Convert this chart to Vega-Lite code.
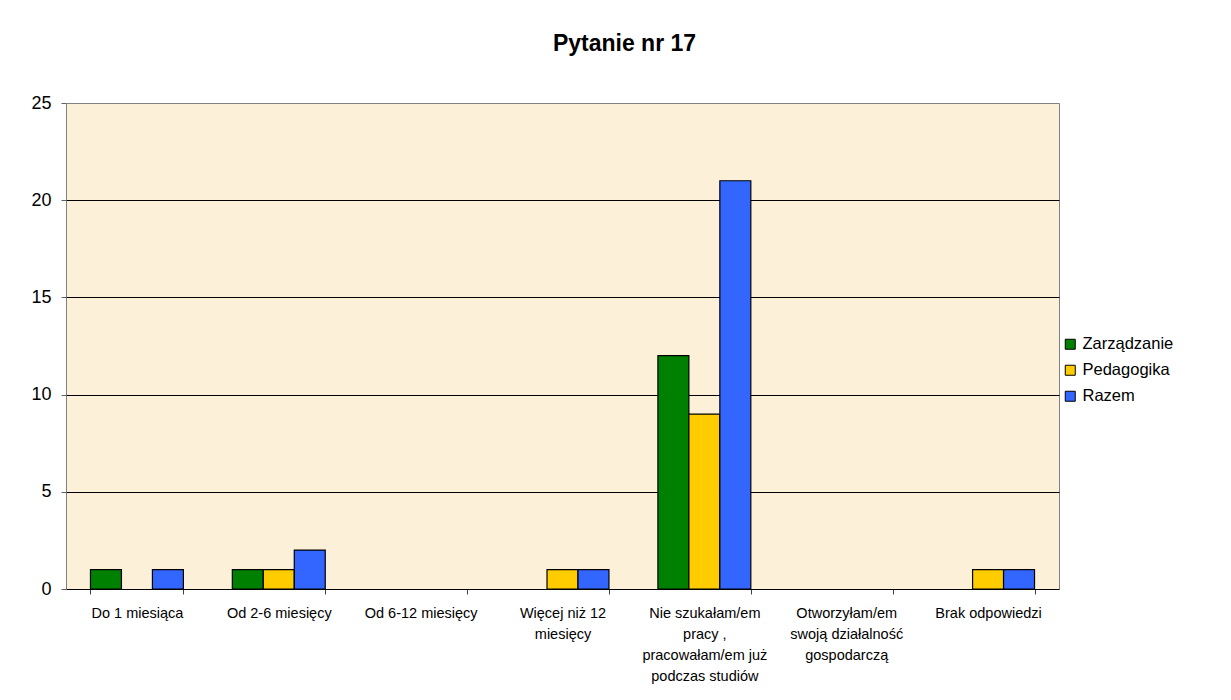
{
  "$schema": "https://vega.github.io/schema/vega-lite/v6.json",
  "width": 993,
  "height": 486,
  "padding": {"left": 30, "top": 33, "right": 5, "bottom": 5},
  "autosize": {"type": "pad"},
  "background": "white",
  "title": {"text": "Pytanie nr 17", "font": "Liberation Sans", "fontSize": 23, "fontWeight": "bold", "color": "black", "anchor": "middle", "frame": "bounds", "offset": 38, "dx": 22},
  "config": {
    "font": "Liberation Sans",
    "view": {"stroke": "#808080", "strokeWidth": 1, "fill": "#FCF0D9"}
  },
  "data": {
    "values": [
      {"kategoria": "Do 1 miesiąca", "seria": "Zarządzanie", "liczba": 1},
      {"kategoria": "Do 1 miesiąca", "seria": "Pedagogika", "liczba": 0},
      {"kategoria": "Do 1 miesiąca", "seria": "Razem", "liczba": 1},
      {"kategoria": "Od 2-6 miesięcy", "seria": "Zarządzanie", "liczba": 1},
      {"kategoria": "Od 2-6 miesięcy", "seria": "Pedagogika", "liczba": 1},
      {"kategoria": "Od 2-6 miesięcy", "seria": "Razem", "liczba": 2},
      {"kategoria": "Od 6-12 miesięcy", "seria": "Zarządzanie", "liczba": 0},
      {"kategoria": "Od 6-12 miesięcy", "seria": "Pedagogika", "liczba": 0},
      {"kategoria": "Od 6-12 miesięcy", "seria": "Razem", "liczba": 0},
      {"kategoria": "Więcej niż 12 miesięcy", "seria": "Zarządzanie", "liczba": 0},
      {"kategoria": "Więcej niż 12 miesięcy", "seria": "Pedagogika", "liczba": 1},
      {"kategoria": "Więcej niż 12 miesięcy", "seria": "Razem", "liczba": 1},
      {"kategoria": "Nie szukałam/em pracy, pracowałam/em już podczas studiów", "seria": "Zarządzanie", "liczba": 12},
      {"kategoria": "Nie szukałam/em pracy, pracowałam/em już podczas studiów", "seria": "Pedagogika", "liczba": 9},
      {"kategoria": "Nie szukałam/em pracy, pracowałam/em już podczas studiów", "seria": "Razem", "liczba": 21},
      {"kategoria": "Otworzyłam/em swoją działalność gospodarczą", "seria": "Zarządzanie", "liczba": 0},
      {"kategoria": "Otworzyłam/em swoją działalność gospodarczą", "seria": "Pedagogika", "liczba": 0},
      {"kategoria": "Otworzyłam/em swoją działalność gospodarczą", "seria": "Razem", "liczba": 0},
      {"kategoria": "Brak odpowiedzi", "seria": "Zarządzanie", "liczba": 0},
      {"kategoria": "Brak odpowiedzi", "seria": "Pedagogika", "liczba": 1},
      {"kategoria": "Brak odpowiedzi", "seria": "Razem", "liczba": 1}
    ]
  },
  "transform": [{"filter": "datum.liczba > 0"}],
  "mark": {"type": "bar", "stroke": "black", "strokeWidth": 1.2},
  "encoding": {
    "x": {
      "field": "kategoria",
      "type": "nominal",
      "sort": null,
      "scale": {
        "domain": ["Do 1 miesiąca", "Od 2-6 miesięcy", "Od 6-12 miesięcy", "Więcej niż 12 miesięcy", "Nie szukałam/em pracy, pracowałam/em już podczas studiów", "Otworzyłam/em swoją działalność gospodarczą", "Brak odpowiedzi"],
        "paddingInner": 0.345,
        "paddingOuter": 0.1725
      },
      "axis": {
        "title": null,
        "labelAngle": 0,
        "labelFontSize": 14.5,
        "labelColor": "black",
        "labelPadding": 12,
        "labelLineHeight": 21,
        "labelLimit": 0,
        "labelBaseline": "top",
        "tickBand": "extent",
        "tickSize": 5,
        "tickColor": "#404040",
        "domainColor": "black",
        "domainWidth": 1,
        "labelExpr": "datum.value == 'Więcej niż 12 miesięcy' ? ['Więcej niż 12', 'miesięcy'] : datum.value == 'Nie szukałam/em pracy, pracowałam/em już podczas studiów' ? ['Nie szukałam/em', 'pracy ,', 'pracowałam/em już', 'podczas studiów'] : datum.value == 'Otworzyłam/em swoją działalność gospodarczą' ? ['Otworzyłam/em', 'swoją działalność', 'gospodarczą'] : datum.label"
      }
    },
    "xOffset": {"field": "seria", "type": "nominal", "sort": ["Zarządzanie", "Pedagogika", "Razem"], "scale": {"domain": ["Zarządzanie", "Pedagogika", "Razem"], "paddingInner": 0, "paddingOuter": 0}},
    "y": {
      "field": "liczba",
      "type": "quantitative",
      "scale": {"domain": [0, 25], "nice": false},
      "axis": {
        "title": null,
        "values": [0, 5, 10, 15, 20, 25],
        "labelFontSize": 18,
        "labelColor": "black",
        "labelPadding": 10,
        "tickSize": 5,
        "tickColor": "#606060",
        "domain": false,
        "grid": true,
        "gridColor": "black",
        "gridWidth": 1,
        "gridOpacity": {"condition": {"test": "datum.value == 25 || datum.value == 0", "value": 0}, "value": 1}
      }
    },
    "color": {
      "field": "seria",
      "type": "nominal",
      "sort": ["Zarządzanie", "Pedagogika", "Razem"],
      "scale": {"domain": ["Zarządzanie", "Pedagogika", "Razem"], "range": ["#008000", "#FFCC00", "#3366FF"]},
      "legend": {
        "title": null,
        "orient": "none",
        "legendX": 996,
        "legendY": 233,
        "symbolType": "square",
        "symbolSize": 100,
        "symbolStrokeColor": "black",
        "symbolStrokeWidth": 1,
        "symbolOpacity": 1,
        "labelFontSize": 16.5,
        "labelColor": "black",
        "labelOffset": 4,
        "rowPadding": 9
      }
    }
  }
}
